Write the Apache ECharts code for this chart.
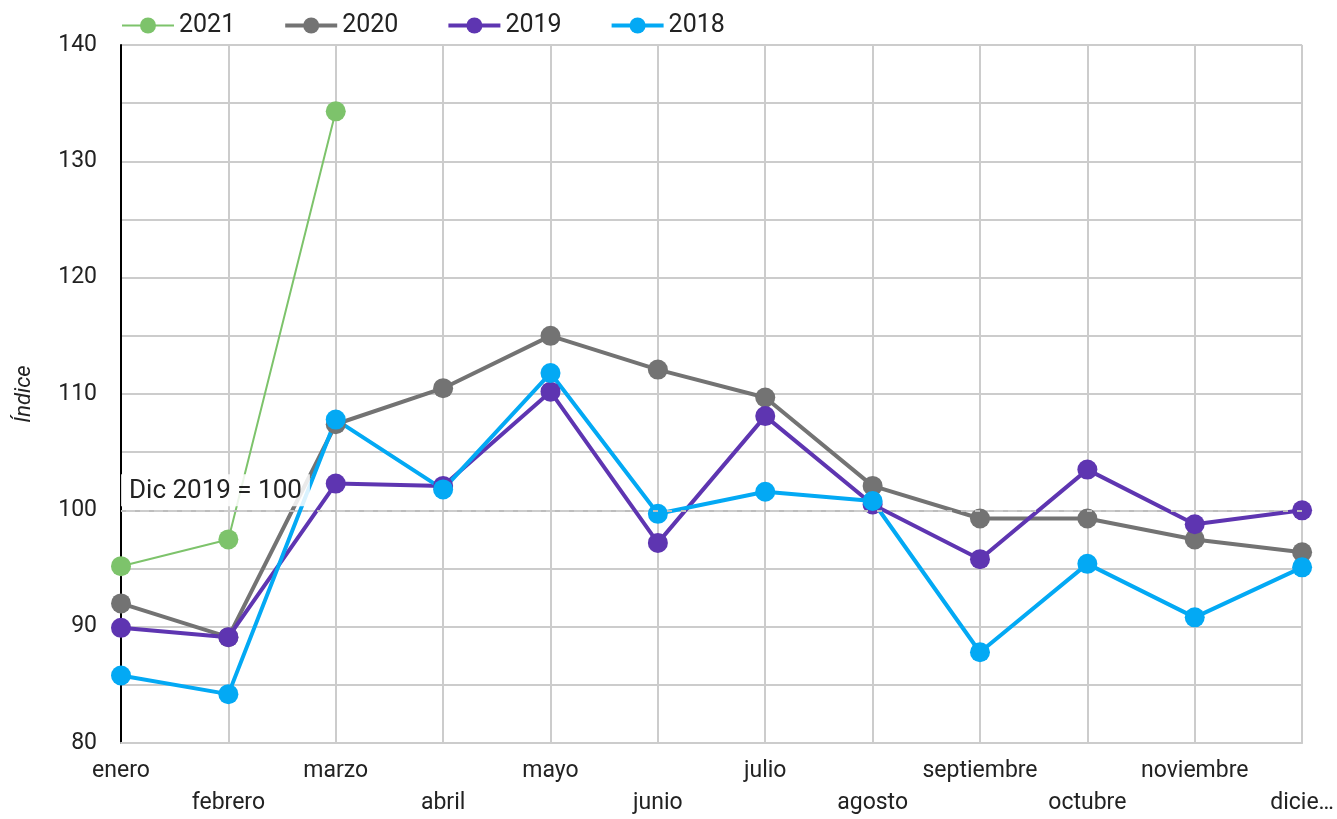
<!DOCTYPE html>
<html>
<head>
<meta charset="utf-8">
<script src="https://cdn.jsdelivr.net/npm/echarts@6/dist/echarts.min.js"></script>
<style>
  html, body { margin: 0; padding: 0; background: #fff; overflow: hidden; }
  #chart { width: 1337px; height: 819px; }
</style>
</head>
<body>
<div id="chart"></div>
<script>
// meses
var months = ['enero', 'febrero', 'marzo', 'abril', 'mayo', 'junio', 'julio',
  'agosto', 'septiembre', 'octubre', 'noviembre', 'diciembre'];

// índice (Dic 2019 = 100)
var y2021 = [95.2, 97.5, 134.3];
var y2020 = [92.0, 89.1, 107.4, 110.5, 115.0, 112.1, 109.7, 102.1, 99.3, 99.3, 97.5, 96.4];
var y2019 = [89.9, 89.1, 102.3, 102.1, 110.2, 97.2, 108.1, 100.5, 95.8, 103.5, 98.8, 100.0];
var y2018 = [85.8, 84.2, 107.8, 101.8, 111.8, 99.7, 101.6, 100.8, 87.8, 95.4, 90.8, 95.1];

var yTicks = [80, 90, 100, 110, 120, 130, 140];
var refValue = 100;
var refLabel = 'Dic 2019 = 100';

var chart = echarts.init(document.getElementById('chart'));

function lineSeries(name, data, color, width) {
  return {
    name: name,
    type: 'line',
    data: data,
    symbol: 'circle',
    symbolSize: 20,
    lineStyle: { color: color, width: width },
    itemStyle: { color: color },
    emphasis: { disabled: true }
  };
}

var series = [
  lineSeries('2021', y2021, '#7dc36b', 2),
  lineSeries('2020', y2020, '#737373', 4),
  lineSeries('2019', y2019, '#5e35b1', 4),
  lineSeries('2018', y2018, '#03a9f4', 4)
];
series[3].markLine = {
  silent: true,
  symbol: 'none',
  lineStyle: { color: '#bdbdbd', type: [5, 9], width: 2 },
  label: {
    show: true,
    position: 'insideStartTop',
    distance: [0, 4],
    formatter: refLabel,
    color: '#222',
    fontSize: 26,
    fontFamily: 'Roboto',
    backgroundColor: 'rgba(255,255,255,0.85)',
    padding: [4, 8, 2, 8]
  },
  data: [{ yAxis: refValue }]
};

var option = {
  animation: false,
  textStyle: { fontFamily: 'Roboto' },
  legend: {
    left: 116,
    top: 8,
    itemWidth: 52,
    itemHeight: 20,
    itemGap: 48,
    textStyle: { fontSize: 25, color: '#222', fontFamily: 'Roboto' },
    data: [
      { name: '2021', lineStyle: { width: 2 } },
      { name: '2020', lineStyle: { width: 4 } },
      { name: '2019', lineStyle: { width: 4 } },
      { name: '2018', lineStyle: { width: 4 } }
    ]
  },
  grid: { left: 121, right: 29, top: 45, height: 704, containLabel: false },
  xAxis: {
    type: 'category',
    data: months,
    boundaryGap: false,
    axisLine: { lineStyle: { color: '#cccccc', width: 2 } },
    axisTick: { show: false },
    splitLine: { show: true, lineStyle: { color: '#cccccc', width: 2 } },
    axisLabel: {
      interval: 0,
      color: '#222',
      fontSize: 23,
      lineHeight: 32,
      margin: 12,
      formatter: function (v, i) {
        var t = v === 'diciembre' ? 'dicie\u2026' : v;
        return i % 2 === 1 ? '\n' + t : t;
      }
    }
  },
  yAxis: {
    type: 'value',
    min: yTicks[0],
    max: yTicks[yTicks.length - 1],
    interval: 5,
    name: 'Índice',
    nameLocation: 'middle',
    nameGap: 86,
    nameTextStyle: { fontSize: 22, fontStyle: 'italic', color: '#222' },
    axisLine: { show: true, lineStyle: { color: '#000', width: 2 } },
    axisTick: { show: false },
    splitLine: { lineStyle: { color: '#cccccc', width: 2 } },
    axisLabel: {
      color: '#222',
      fontSize: 23,
      margin: 24,
      formatter: function (v) { return yTicks.indexOf(v) >= 0 ? String(v) : ''; }
    }
  },
  series: series
};

chart.setOption(option);
</script>
</body>
</html>
